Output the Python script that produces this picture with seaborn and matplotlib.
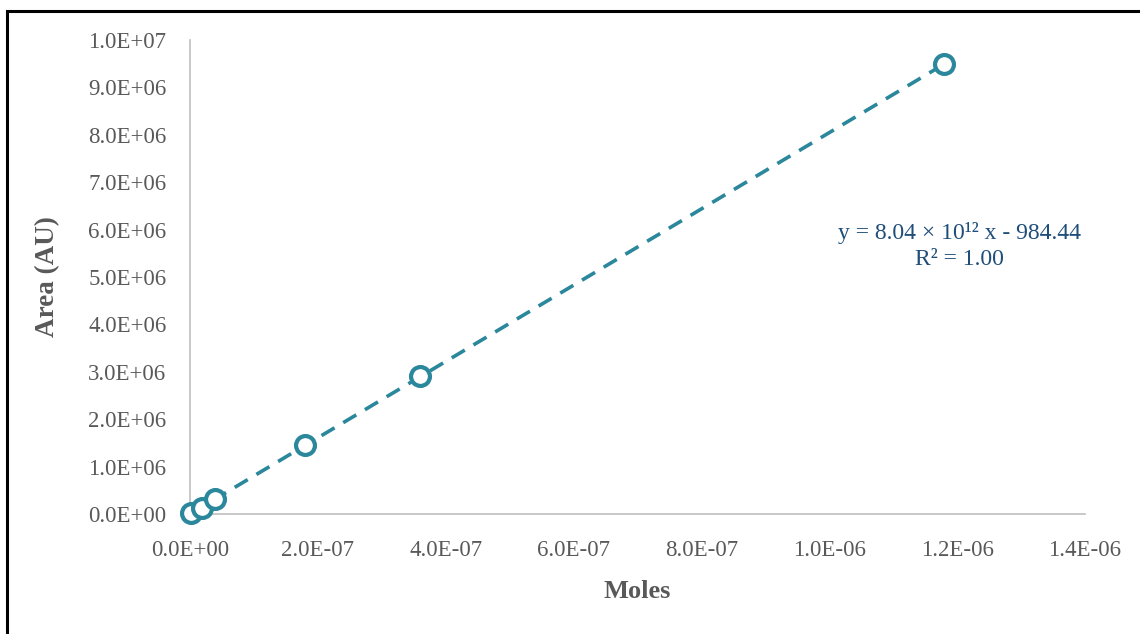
import matplotlib
matplotlib.use("Agg")
import matplotlib.pyplot as plt
from matplotlib.patches import Rectangle
import numpy as np
import pandas as pd
import seaborn as sns

# calibration points
moles = [2.0e-9, 1.8e-8, 3.9e-8, 1.8e-7, 3.6e-7, 1.18e-6]
area = [1.5e4, 1.27e5, 3.16e5, 1.45e6, 2.91e6, 9.49e6]

x_ticks = [0, 2e-7, 4e-7, 6e-7, 8e-7, 1e-6, 1.2e-6, 1.4e-6]
x_labels = ["0.0E+00", "2.0E-07", "4.0E-07", "6.0E-07", "8.0E-07", "1.0E-06", "1.2E-06", "1.4E-06"]
y_ticks = [i * 1e6 for i in range(11)]
y_labels = ["0.0E+00", "1.0E+06", "2.0E+06", "3.0E+06", "4.0E+06", "5.0E+06",
            "6.0E+06", "7.0E+06", "8.0E+06", "9.0E+06", "1.0E+07"]

eq_text = "y = 8.04 × 10¹² x - 984.44\nR² = 1.00"

df = pd.DataFrame({"Moles": moles, "Area": area})

sns.set_style("white")
plt.rcParams["font.family"] = ["Liberation Serif", "DejaVu Serif"]

teal = "#2B879B"
grey_txt = "#595959"
grey_axis = "#BFBFBF"

fig = plt.figure(figsize=(11.4, 6.34), dpi=100)
ax = fig.add_axes([190 / 1140, 1 - 514 / 634, (1085 - 190) / 1140, (514 - 40) / 634])

# dashed linear trendline, then open circles on top
sns.regplot(data=df, x="Moles", y="Area", ci=None, scatter=False, ax=ax,
            line_kws=dict(color=teal, lw=2.6, dashes=(4.2, 2.8), zorder=2))
sns.scatterplot(data=df, x="Moles", y="Area", ax=ax, s=185, marker="o",
                facecolor="white", edgecolor=teal, linewidth=3, zorder=3, clip_on=False)

ax.set_xlim(0, 1.4e-6)
ax.set_ylim(0, 1e7)
ax.set_xticks(x_ticks)
ax.set_xticklabels(x_labels)
ax.set_yticks(y_ticks)
ax.set_yticklabels(y_labels)

for side in ["top", "right"]:
    ax.spines[side].set_visible(False)
for side in ["left", "bottom"]:
    ax.spines[side].set_color(grey_axis)
    ax.spines[side].set_linewidth(1.2)

ax.tick_params(axis="both", direction="out", length=4.5, width=1.2, color=grey_axis,
               labelcolor=grey_txt, labelsize=16.5)
ax.tick_params(axis="y", pad=12.5)
ax.tick_params(axis="x", pad=14)

ax.set_xlabel("Moles", fontsize=19, fontweight="bold", color=grey_txt, labelpad=14)
ax.set_ylabel("Area (AU)", fontsize=19.5, fontweight="bold", color=grey_txt, labelpad=20)

ax.text(0.86, 0.565, eq_text, transform=ax.transAxes, ha="center", va="center",
        fontsize=17, color="#1F4E79", linespacing=1.35)

# black outer frame
fig.patches.append(Rectangle((7 / 1140, -0.1), 1.2, 1 - 10.5 / 634 + 0.1,
                             transform=fig.transFigure, fill=False,
                             edgecolor="black", linewidth=2.2, zorder=10))

fig.savefig("out.png", dpi=100)
